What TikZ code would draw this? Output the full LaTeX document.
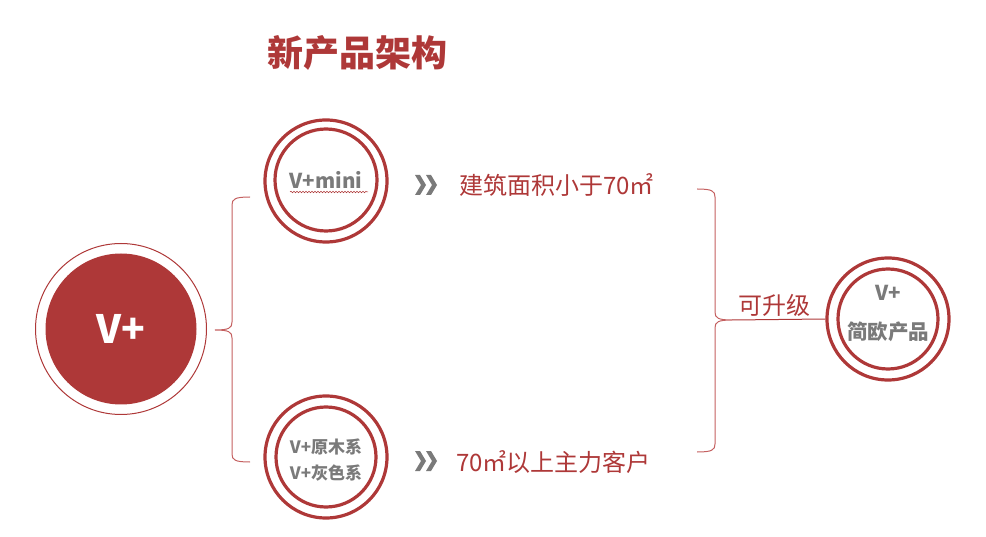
\documentclass[tikz,border=0pt]{standalone}
\usepackage{fontspec}
\setmainfont{Noto Sans CJK SC}
\usetikzlibrary{decorations.pathmorphing}
\definecolor{vred}{RGB}{174,56,56}
\definecolor{vpink}{RGB}{196,96,96}
\definecolor{vgray}{RGB}{122,122,122}
\tikzset{
  ring/.style={circle, draw=vred, line width=3.2pt, inner sep=0pt},
  graytext/.style={text=vgray, font=\fontsize{17}{20}\selectfont\bfseries, align=center},
  redtext/.style={text=vred, font=\fontsize{24}{26}\selectfont, anchor=west, inner sep=0pt},
  bracebar/.style={draw=vpink, line width=1pt},
  chev/.style={fill=vgray, draw=none}
}
\newcommand{\chevrons}[2]{%
  \fill[chev] (#1,#2-10) -- (#1+5,#2-10) -- (#1+11,#2) -- (#1+5,#2+10) -- (#1,#2+10) -- (#1+6,#2) -- cycle;
  \fill[chev] (#1+11,#2-10) -- (#1+16,#2-10) -- (#1+22,#2) -- (#1+16,#2+10) -- (#1+11,#2+10) -- (#1+17,#2) -- cycle;
}
\begin{document}
\begin{tikzpicture}[x=1pt,y=-1pt]
\useasboundingbox (0,0) rectangle (986,537);
% title
\node[text=vred, font=\fontsize{36}{38}\selectfont\bfseries] (title) at (357,53) {新产品架构};
% big circle
\node[circle, draw=vred, line width=1pt, minimum size=171pt, inner sep=0pt] (vout) at (121,329) {};
\node[circle, fill=vred, minimum size=151pt, inner sep=0pt, text=white, font=\fontsize{39}{40}\selectfont\bfseries] (vplus) at (121,329) {V+};
% top double circle
\node[ring, minimum size=122pt] (topout) at (326,181) {};
\node[ring, minimum size=102pt, graytext, font=\fontsize{20.5}{22}\selectfont\bfseries] (topin) at (326,180) {V+mini};
\draw[vred, line width=0.5pt, decorate, decoration={snake, amplitude=0.8pt, segment length=3pt}] (290,192) -- (368,192);
% bottom double circle
\node[ring, minimum size=122pt] (botout) at (326,457) {};
\node[ring, minimum size=100pt] (botin) at (326,457) {};
\node[graytext, font=\fontsize{17}{26}\selectfont\bfseries] (bottxt) at (326,460) {V+原木系\\V+灰色系};
% right double circle
\node[ring, minimum size=122pt] (rout) at (888,319) {};
\node[ring, minimum size=100pt] (rin) at (888,319) {};
\node[graytext, font=\fontsize{20.5}{39}\selectfont\bfseries] (rtxt) at (888,313) {V+\\简欧产品};
% chevrons
\chevrons{415}{185}
\chevrons{415}{461}
% red texts
\node[redtext] (t1) at (459,185) {建筑面积小于70㎡};
\node[redtext] (t2) at (456,462) {70㎡以上主力客户};
% left brace
\coordinate (lb1) at (250,197);
\coordinate (lbtip) at (215,330);
\coordinate (lb2) at (250,462);
\draw[bracebar] (lb1) .. controls (235,197) and (232,199) .. (232,205) -- (232,322)
  .. controls (232,328) and (229,330) .. (lbtip)
  .. controls (229,330) and (232,332) .. (232,338) -- (232,454)
  .. controls (232,460) and (235,462) .. (lb2);
% right brace
\coordinate (rb1) at (697,189);
\coordinate (rbtip) at (732,320);
\coordinate (rb2) at (697,452);
\draw[bracebar] (rb1) .. controls (712,189) and (715,191) .. (715,197) -- (715,312)
  .. controls (715,318) and (718,320) .. (rbtip)
  .. controls (718,320) and (715,322) .. (715,328) -- (715,444)
  .. controls (715,450) and (712,452) .. (rb2);
\draw[vred, line width=1pt] (rbtip) -- (rout.west);
\node[text=vred, font=\fontsize{24}{26}\selectfont] (up) at (774,305) {可升级};
\end{tikzpicture}
\end{document}
